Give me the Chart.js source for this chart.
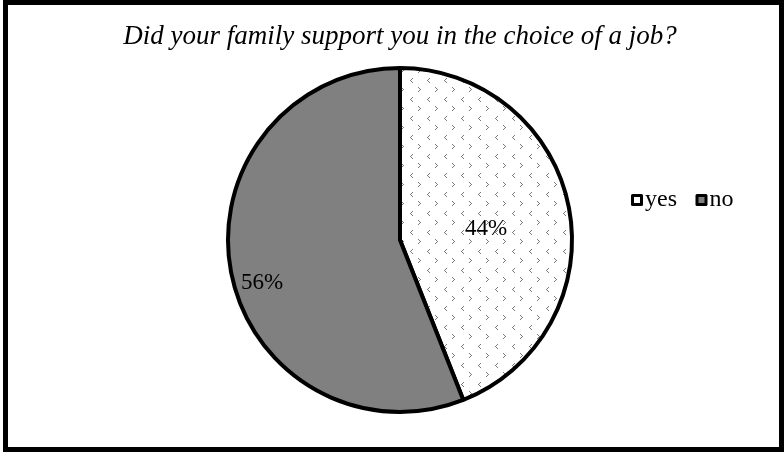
<!DOCTYPE html>
<html>
<head>
<meta charset="utf-8">
<script src="https://cdn.jsdelivr.net/npm/chart.js@4.4.0/dist/chart.umd.min.js"></script>
<style>
  html, body { margin: 0; padding: 0; background: #fff; }
  #wrap { width: 784px; height: 452px; }
</style>
</head>
<body>
<div id="wrap"><canvas id="pieChart" width="784" height="452"></canvas></div>
<script>
// chart data
const categories = ['yes', 'no'];
const shares = [44, 56];
const chartTitle = 'Did your family support you in the choice of a job?';

// label placement tweaks (fraction of radius, angle shift in degrees)
const labelRadius = [0.505, 0.84];
const labelAngleShift = [3.2, -6.5];

const SERIF = '"Liberation Serif", "Times New Roman", serif';

// dotted chevron pattern used for the "yes" slice
function makePattern() {
    const tile = document.createElement('canvas');
    tile.width = 17;
    tile.height = 19;
    const t = tile.getContext('2d');
    t.fillStyle = '#fff';
    t.fillRect(0, 0, 17, 19);
    t.fillStyle = '#7a7a7a';
    // "<"
    [[2, 0], [1, 1], [0, 2], [1, 3], [2, 4]].forEach(([x, y]) => t.fillRect(x + 2, y + 2, 1, 1));
    // ">"
    [[0, 0], [1, 1], [2, 2], [1, 3], [0, 4]].forEach(([x, y]) => t.fillRect(x + 10, y + 11, 1, 1));
    return document.getElementById('pieChart').getContext('2d').createPattern(tile, 'repeat');
}

const sliceFill = [makePattern(), '#808080'];
const legendFill = ['#ffffff', '#808080'];

const framePlugin = {
    id: 'frame',
    beforeDraw(chart) {
        const c = chart.ctx;
        c.save();
        c.fillStyle = '#fff';
        c.fillRect(0, 0, chart.width, chart.height);
        c.restore();
    },
    afterDraw(chart) {
        const c = chart.ctx;
        c.save();
        c.strokeStyle = '#000';
        c.lineWidth = 5;
        c.strokeRect(5.5, 2.5, chart.width - 8, chart.height - 5);
        c.restore();
    }
};

const labelPlugin = {
    id: 'sliceLabels',
    afterDatasetsDraw(chart) {
        const c = chart.ctx;
        const meta = chart.getDatasetMeta(0);
        c.save();
        c.font = '23px ' + SERIF;
        c.fillStyle = '#000';
        c.textAlign = 'center';
        c.textBaseline = 'middle';
        meta.data.forEach((arc, i) => {
            const p = arc.getProps(['x', 'y', 'startAngle', 'endAngle', 'outerRadius'], true);
            const mid = (p.startAngle + p.endAngle) / 2 + labelAngleShift[i] * Math.PI / 180;
            const r = p.outerRadius * labelRadius[i];
            c.fillText(shares[i] + '%', p.x + Math.cos(mid) * r, p.y + Math.sin(mid) * r);
        });
        c.restore();
    }
};

const legendPlugin = {
    id: 'boxLegend',
    afterDraw(chart) {
        const c = chart.ctx;
        c.save();
        c.font = '24px ' + SERIF;
        c.textBaseline = 'middle';
        let x = 632.5;
        const y = 200;
        categories.forEach((name, i) => {
            c.lineJoin = 'round';
            c.fillStyle = legendFill[i];
            c.fillRect(x, y - 4.5, 9, 9);
            c.strokeStyle = '#000';
            c.lineWidth = 3;
            c.strokeRect(x, y - 4.5, 9, 9);
            c.fillStyle = '#000';
            c.fillText(name, x + 12.5, y);
            x += 12.5 + c.measureText(name).width + 20;
        });
        c.restore();
    }
};

new Chart(document.getElementById('pieChart'), {
    type: 'pie',
    data: {
        labels: categories,
        datasets: [{
            data: shares,
            backgroundColor: sliceFill,
            borderColor: '#000',
            borderWidth: 4,
            hoverOffset: 0,
            radius: 172
        }]
    },
    options: {
        responsive: false,
        animation: false,
        events: [],
        layout: { padding: { left: 36, right: 20, top: 0, bottom: 25.4 } },
        plugins: {
            legend: { display: false },
            tooltip: { enabled: false },
            title: {
                display: true,
                text: chartTitle,
                color: '#000',
                font: { family: SERIF, size: 27, style: 'italic', weight: 'normal', lineHeight: 1.2 },
                padding: { top: 21, bottom: 0 }
            }
        }
    },
    plugins: [framePlugin, labelPlugin, legendPlugin]
});
</script>
</body>
</html>
